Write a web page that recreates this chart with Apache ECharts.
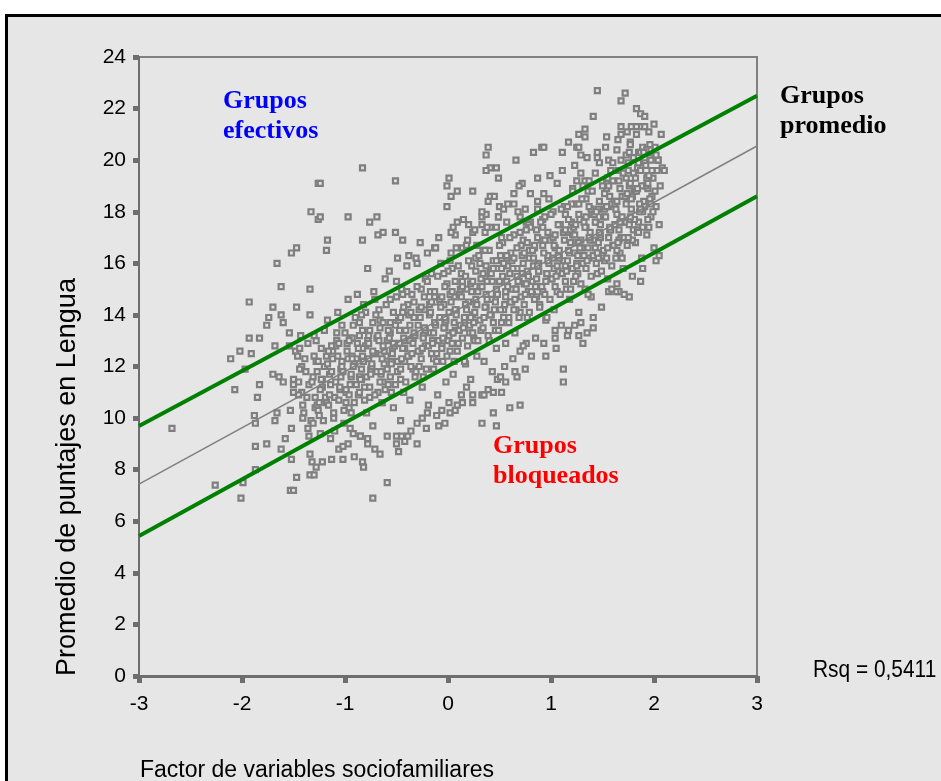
<!DOCTYPE html>
<html>
<head>
<meta charset="utf-8">
<script src="https://cdn.jsdelivr.net/npm/echarts@6/dist/echarts.min.js"></script>
<style>
  html, body { margin: 0; padding: 0; background: #fff; }
  #chart { width: 941px; height: 781px; }
</style>
</head>
<body>
<div id="chart"></div>
<script>
    // ticks
    const xTicks = [-3, -2, -1, 0, 1, 2, 3];
    const yTicks = [0, 2, 4, 6, 8, 10, 12, 14, 16, 18, 20, 22, 24];

    // fitted line (gray) and the two band lines (green), endpoints at x = -3 and x = 3
    const fitLine = [[-3, 7.44], [3, 20.55]];
    const upperLine = [[-3, 9.69], [3, 22.5]];
    const lowerLine = [[-3, 5.43], [3, 18.6]];

    // scatter points
    const leftPoints = [
        [-2.68,9.6],[-2.26,7.4],[-2.01,6.9],[-1.99,7.5],[-2.11,12.3],[-2.07,11.1],[-1.93,14.5],[-1.93,13.1],
        [-1.91,12.5],[-1.87,9.8],[-1.87,8.9],[-1.87,8.0],[-1.85,10.8],[-1.83,13.1],[-1.83,11.3],[-1.76,13.6],
        [-1.76,9.0],[-1.74,13.9],[-1.70,14.3],[-1.70,11.7],[-1.68,12.8],[-1.68,9.9],[-1.66,16.0],[-1.66,10.2],
        [-1.64,11.6],[-1.62,15.1],[-1.62,14.0],[-1.62,8.8],[-1.60,13.7],[-1.60,11.4],[-1.58,9.2],[-1.54,13.3],
        [-1.54,12.8],[-1.53,10.3],[-1.53,7.2],[-1.50,7.2],[-1.52,16.4],[-1.52,9.6],[-1.52,8.4],[-1.50,11.5],
        [-1.50,11.0],[-1.48,12.6],[-1.47,16.6],[-1.47,14.3],[-1.47,7.7],[-1.46,12.4],[-1.44,12.7],[-1.42,12.0],
        [-1.42,11.0],[-1.41,10.5],[-1.36,9.6],[-1.35,9.3],[-1.34,15.0],[-1.34,14.0],[-1.34,8.6],[-1.34,7.8],
        [-1.33,18.0],[-1.32,8.3],[-1.31,11.6],[-1.29,10.4],[-1.27,10.5],[-1.26,19.1],[-1.26,17.7],[-1.24,17.8],
        [-1.28,8.1],[-1.22,8.3],[-1.30,7.8],[-1.50,11.3],[-1.45,11.4],[-1.88,10.1],[-2.02,12.6],[-1.97,11.9],
        [-1.44,11.9],[-1.39,12.3],[-1.37,10.8],[-1.43,13.2],[-1.35,11.3],[-1.40,10.2]
    ];

    const upperPoints = [
        [-1.24,19.1],[-0.83,19.7],[-0.51,19.2],[-0.97,17.8],[-0.76,17.6],[-0.69,17.8],[-0.51,17.2],[-0.68,17.1],
        [-0.63,17.2],[-0.83,16.9],[-1.17,16.9],[-1.18,16.5],[-0.44,16.9],[-0.13,16.6],[-0.49,16.2],[-0.38,16.3],
        [0.01,19.3],[-0.01,19.0],[-0.01,18.2],[0.09,18.8],[0.03,18.6],[0.24,18.8],[0.39,20.5],[0.37,20.2],
        [0.41,19.7],[0.47,19.7],[0.37,19.6],[0.49,19.3],[0.41,18.6],[0.39,18.4],[0.50,18.2],[0.54,18.1],
        [0.64,18.7],[0.64,18.3],[0.66,20.0],[0.72,19.1],[0.75,18.1],[0.87,18.1],[0.87,19.3],[0.83,20.3],
        [0.91,20.5],[0.93,18.7],[0.93,20.5],[1.11,20.3],[1.17,20.7],[1.25,20.5],[1.27,20.5],[1.29,20.2],
        [1.27,21.0],[1.33,21.2],[1.33,20.9],[1.41,21.7],[1.45,22.7],[1.45,20.3],[1.45,20.1],[1.54,20.9],
        [1.56,20.0],[1.60,19.9],[1.64,20.4],[1.68,20.0],[1.68,21.0],[1.74,21.1],[1.68,21.3],[1.78,21.3],
        [1.83,21.3],[1.88,21.3],[1.91,21.3],[1.72,22.6],[1.68,22.3],[1.83,22.0],[1.87,21.8],[1.91,21.7],
        [2.00,21.4],[2.07,21.0],[1.77,20.7],[1.85,20.3],[1.89,20.5],[1.93,20.4],[1.97,20.4],[2.04,20.0],
        [2.08,19.7],[2.10,19.6],[0.05,17.4],[0.09,17.6],[0.20,17.5],[0.07,17.1],[0.33,17.8],[0.37,17.9],
        [0.33,17.5],[0.41,17.4],[0.47,17.4],[0.24,17.2],[0.36,17.2],[0.03,16.4],[0.14,16.6],[0.18,16.7],
        [-0.30,16.0],[0.49,17.8],[0.57,17.6],[0.70,17.8],[0.80,17.6],[0.92,17.7],[1.29,19.5],[1.25,19.2],
        [1.33,19.2],[1.37,19.2],[1.21,18.9],[1.21,18.8]
    ];

    const lowerPoints = [
        [-0.73,6.9],[-0.59,7.5],[-1.13,8.4],[-1.02,8.4],[-0.91,8.5],[-0.83,8.3],[-0.82,8.1],[-0.30,9.0],
        [-0.50,9.0],[-0.50,9.3],[-0.42,9.1],[-0.39,9.3],[-0.45,9.3],[-0.59,9.3],[-0.78,9.0],[-0.78,9.2],
        [-0.85,9.3],[-0.92,9.4],[-0.97,9.0],[-0.30,9.8],[-0.25,10.0],[-0.20,10.2],[-0.09,9.7],[-0.03,9.8],
        [-0.11,10.1],[0.02,10.2],[0.07,10.3],[0.14,10.6],[0.01,10.6],[0.24,10.6],[0.24,10.9],[0.33,10.9],
        [0.35,10.9],[0.44,10.2],[0.33,9.8],[0.47,9.7],[0.60,10.4],[0.70,10.5],[0.44,11.0],[0.52,11.0],
        [0.56,11.4],[0.48,11.5],[0.67,11.6],[0.65,11.8],[0.70,12.6],[0.76,12.9],[0.95,12.4],[1.12,11.9],
        [1.12,11.4],[1.04,13.4],[1.04,13.1],[1.16,13.2],[1.23,13.6],[1.27,13.2],[1.35,13.3],[1.31,12.9],
        [1.41,13.5],[1.56,14.9],[1.66,14.9],[1.64,15.2],[1.76,14.7],[1.87,15.3],[2.02,16.1],[1.94,17.4],
        [2.05,16.3],[-1.06,8.8],[-0.66,8.6]
    ];

    const corePoints = [
        [-1.45,10.9],[-1.38,11.8],[-1.30,12.4],[-1.25,10.1],[-1.22,11.2],[-1.41,10.0],[-1.28,13.0],[-1.33,9.9],
        [-1.20,12.0],[-1.36,12.9],[-1.18,10.6],[-1.24,9.4],
        [-1.15,11.7],[-1.12,12.6],[-1.10,10.8],[-1.08,13.3],[-1.05,11.1],[-1.03,12.2],[-1.01,9.8],[-0.98,12.9],
        [-0.96,10.4],[-0.94,11.6],[-0.92,13.6],[-1.14,9.2],[-1.07,14.1],[-0.99,11.0],[-0.93,12.4],[-1.11,10.0],
        [-0.97,14.6],[-1.17,13.8],[-1.02,8.9],[-0.95,9.6],
        [-0.89,12.3],[-0.87,10.9],[-0.86,13.7],[-0.84,11.5],[-0.82,14.4],[-0.80,12.8],[-0.79,10.2],[-0.77,13.2],
        [-0.75,11.9],[-0.73,9.7],[-0.72,14.9],[-0.70,12.5],[-0.68,11.0],[-0.66,13.8],[-0.64,10.6],[-0.62,12.1],
        [-0.61,15.4],[-0.85,9.3],[-0.78,15.8],[-0.71,8.8],[-0.67,14.2],[-0.88,14.8],[-0.74,12.0],[-0.63,11.4],
        [-0.81,11.2],
        [-0.59,13.0],[-0.58,11.3],[-0.56,14.6],[-0.55,12.2],[-0.53,10.4],[-0.52,13.7],[-0.50,15.3],[-0.49,11.8],
        [-0.47,12.9],[-0.46,9.9],[-0.44,14.1],[-0.43,11.0],[-0.41,13.4],[-0.40,15.9],[-0.38,12.4],[-0.37,10.7],
        [-0.35,14.8],[-0.34,13.1],[-0.32,11.6],[-0.31,16.2],[-0.57,15.7],[-0.48,8.7],[-0.42,12.2],[-0.36,9.5],
        [-0.54,12.6],[-0.39,14.4],
        [-0.29,13.6],[-0.28,12.0],[-0.26,15.0],[-0.25,11.2],[-0.23,14.2],[-0.22,12.8],[-0.20,16.4],[-0.19,10.5],
        [-0.17,13.3],[-0.16,15.6],[-0.14,11.9],[-0.13,14.7],[-0.11,12.5],[-0.10,10.9],[-0.08,13.9],[-0.07,16.0],
        [-0.05,12.2],[-0.04,14.4],[-0.02,11.4],[-0.01,15.2],[-0.27,16.8],[-0.21,9.6],[-0.15,13.0],[-0.09,17.0],
        [-0.03,13.5],[-0.18,14.0],[-0.12,16.6],[-0.06,10.3],
        [0.01,14.1],[0.02,12.6],[0.04,15.8],[0.05,11.7],[0.07,13.4],[0.08,16.6],[0.10,12.9],[0.11,14.8],
        [0.13,10.9],[0.14,15.3],[0.16,13.8],[0.17,12.1],[0.19,16.9],[0.20,14.5],[0.22,11.5],[0.23,15.9],
        [0.25,13.1],[0.26,17.3],[0.28,12.4],[0.29,14.9],[0.03,17.2],[0.09,10.5],[0.15,17.7],[0.21,13.3],
        [0.27,16.2],[0.06,14.7],[0.12,13.6],[0.18,11.2],[0.24,14.0],[0.00,13.0],
        [0.31,15.1],[0.32,13.4],[0.34,16.5],[0.35,12.2],[0.37,14.3],[0.38,17.4],[0.40,13.0],[0.41,15.7],
        [0.43,11.8],[0.44,16.1],[0.46,14.6],[0.47,12.7],[0.49,17.8],[0.50,15.3],[0.52,13.7],[0.53,16.8],
        [0.55,12.0],[0.56,14.9],[0.58,18.3],[0.59,13.9],[0.33,18.0],[0.39,11.1],[0.45,18.6],[0.51,11.6],
        [0.57,16.2],[0.36,15.5],[0.42,14.0],[0.48,15.8],[0.54,14.2],[0.60,15.6],
        [0.61,16.4],[0.62,14.5],[0.64,17.1],[0.65,13.3],[0.67,15.8],[0.68,18.0],[0.70,14.1],[0.71,16.7],
        [0.73,12.8],[0.74,15.2],[0.76,17.6],[0.77,13.9],[0.79,16.2],[0.80,18.7],[0.82,14.8],[0.83,15.9],
        [0.85,13.1],[0.86,17.3],[0.88,16.0],[0.89,14.4],[0.63,12.3],[0.69,19.0],[0.75,11.9],[0.81,12.4],
        [0.87,18.4],[0.66,15.0],[0.72,15.6],[0.78,14.9],[0.84,16.6],[0.90,15.1],
        [0.91,16.9],[0.92,14.9],[0.94,17.8],[0.95,13.8],[0.97,16.3],[0.98,18.5],[1.00,15.4],[1.01,17.0],
        [1.03,14.2],[1.04,16.6],[1.06,19.1],[1.07,15.7],[1.09,17.5],[1.10,13.6],[1.12,16.1],[1.13,18.2],
        [1.15,15.0],[1.16,17.2],[1.18,14.6],[1.19,16.8],[0.93,12.9],[0.99,19.4],[1.05,12.7],[1.11,19.6],
        [1.17,13.4],[0.96,15.6],[1.02,16.2],[1.08,16.5],[1.14,15.9],[1.20,17.6],
        [1.21,17.1],[1.22,15.3],[1.24,18.3],[1.25,16.0],[1.27,14.1],[1.28,17.7],[1.30,16.6],[1.31,19.0],
        [1.33,15.0],[1.34,17.4],[1.36,18.8],[1.37,16.2],[1.39,14.7],[1.40,17.9],[1.42,16.9],[1.43,19.5],
        [1.45,15.6],[1.46,18.1],[1.48,17.0],[1.49,14.3],[1.23,19.8],[1.29,13.7],[1.35,20.1],[1.41,13.9],
        [1.47,19.9],[1.26,16.8],[1.32,16.3],[1.38,17.2],[1.44,17.6],[1.50,16.4],
        [1.51,17.8],[1.52,16.1],[1.54,18.9],[1.55,15.4],[1.57,17.3],[1.58,19.6],[1.60,16.7],[1.61,18.4],
        [1.63,14.9],[1.64,17.9],[1.66,19.2],[1.67,16.4],[1.69,18.6],[1.70,15.8],[1.72,17.6],[1.73,20.2],
        [1.75,16.9],[1.76,19.0],[1.78,18.1],[1.79,15.5],[1.53,20.5],[1.59,15.0],[1.65,20.8],[1.71,14.8],
        [1.77,20.6],[1.56,18.2],[1.62,17.5],[1.68,17.0],[1.74,18.5],[1.80,17.3],
        [1.81,18.8],[1.82,16.8],[1.84,19.7],[1.85,17.6],[1.87,20.3],[1.88,16.2],[1.90,18.4],[1.91,19.9],
        [1.93,17.1],[1.94,18.9],[1.96,20.1],[1.97,17.8],[1.99,19.3],[2.00,16.6],[2.02,18.2],[2.03,19.6],
        [2.05,17.5],[1.83,21.0],[1.89,15.8],[1.95,21.1],[2.01,20.5],[1.86,18.3],[1.92,19.0],[1.98,18.6],
        [2.04,20.0],[1.80,19.5],[2.06,19.0]
    ];

    const coreExtra = [
        [-1.04,11.9],[-0.91,12.1],[-0.83,12.7],[-0.69,13.1],[-0.60,12.4],[-0.51,13.6],[-0.42,12.7],[-0.33,13.9],
        [-0.24,13.2],[-0.12,14.5],[-0.03,13.7],[0.08,14.2],[0.18,15.0],[0.27,14.4],[0.38,15.3],[0.47,14.8],
        [0.58,15.9],[0.69,15.3],[0.79,16.5],[0.88,15.7],[0.99,16.9],[1.08,16.3],[1.19,17.3],[1.29,16.9],
        [1.39,18.1],[1.48,17.5],[1.59,18.3],[1.69,17.8],[1.79,18.6],[1.89,18.0],[-0.95,13.1],[-0.86,11.6],
        [-0.77,12.3],[-0.65,11.7],[-0.56,13.3],[-0.46,11.5],[-0.37,13.0],[-0.27,12.6],[-0.17,14.9],[-0.06,12.8],
        [0.04,13.3],[0.13,15.6],[0.22,13.9],[0.31,16.0],[0.42,14.6],[0.51,16.3],[0.62,15.0],[0.73,16.9],
        [0.82,15.3],[0.92,17.4],[1.03,15.8],[1.14,17.9],[1.23,16.4],[1.34,18.5],[1.43,16.6],[1.54,19.1],
        [1.63,16.2],[1.73,19.3],[1.84,17.3],[1.94,19.4],[-1.09,12.8],[-0.99,10.6],[-0.76,10.8],[-0.55,11.0],
        [-0.34,11.9],[-0.14,12.3],[0.06,12.2],[0.26,13.0],[0.46,13.4],[0.66,14.2],[0.86,14.7],[1.06,14.9],
        [1.26,15.6],[1.46,16.2],[1.66,16.9],[-0.71,14.6],[-0.45,15.0],[-0.22,15.4],[0.02,16.1],[0.28,16.7],
        [0.52,17.0],[0.78,17.5],[1.02,18.0],[1.27,18.3],[1.52,18.7],[1.75,19.6]
    ];

    // the solid middle of the cloud, left half
    const denseLeft = [
        [-1.31,9.8],[-1.29,10.8],[-1.32,11.4],[-1.28,12.2],[-1.30,13.2],[-1.26,10.3],[-1.24,11.1],[-1.27,11.8],
        [-1.23,12.7],[-1.21,9.9],[-1.19,10.8],[-1.22,11.5],[-1.18,12.4],[-1.20,13.4],[-1.16,10.5],[-1.14,11.3],
        [-1.17,12.1],[-1.13,12.8],[-1.11,10.2],[-1.09,11.4],[-1.12,12.3],[-1.08,13.0],[-1.10,9.5],[-1.06,10.7],
        [-1.04,11.6],[-1.07,12.4],[-1.03,13.6],[-1.01,10.3],[-0.99,11.1],[-1.02,11.8],[-0.98,12.6],[-1.00,13.3],
        [-0.96,10.9],[-0.94,11.7],[-0.97,12.3],[-0.93,13.1],[-0.91,10.6],[-0.89,11.3],[-0.92,12.0],[-0.88,12.9],
        [-0.90,13.9],[-0.86,11.0],[-0.84,11.9],[-0.87,12.7],[-0.83,13.4],[-0.81,10.7],[-0.79,11.6],[-0.82,12.2],
        [-0.78,13.0],[-0.80,14.1],[-0.76,11.2],[-0.74,12.1],[-0.77,12.9],[-0.73,13.7],[-0.71,10.9],[-0.69,11.8],
        [-0.72,12.5],[-0.68,13.2],[-0.70,14.0],[-0.66,11.4],[-0.64,12.3],[-0.67,13.0],[-0.63,13.7],[-0.61,11.1],
        [-0.59,11.9],[-0.62,12.6],[-0.58,13.4],[-0.60,14.4],[-0.56,11.6],[-0.54,12.5],[-0.57,13.1],[-0.53,14.1],
        [-0.51,11.3],[-0.49,12.2],[-0.52,12.8],[-0.48,13.8],[-0.50,14.7],[-0.46,11.9],[-0.44,12.7],[-0.47,13.4],
        [-0.43,14.3],[-0.41,11.4],[-0.39,12.4],[-0.42,13.0],[-0.38,14.0],[-0.40,14.9],[-0.36,12.0],[-0.34,12.9],
        [-0.37,13.6],[-0.33,14.5],[-0.31,11.8],[-0.29,12.6],[-0.32,13.2],[-0.28,14.2],[-0.30,15.1],[-0.26,12.3],
        [-0.24,13.1],[-0.27,13.9],[-0.23,14.7],[-0.21,11.9],[-0.19,12.8],[-0.22,13.4],[-0.18,14.4],[-0.20,15.3],
        [-0.16,12.5],[-0.14,13.3],[-0.17,14.1],[-0.13,14.9],[-0.11,12.2],[-0.09,13.0],[-0.12,13.6],[-0.08,14.6],
        [-0.10,15.5],[-0.06,12.7],[-0.04,13.5],[-0.07,14.3],[-0.03,15.1],[-0.01,12.4],[0.01,13.2],[-0.02,13.8],
        [0.02,14.8],[0.00,15.7]
    ];

    // the solid middle of the cloud, right half
    const denseRight = [
        [0.04,12.9],[0.06,13.7],[0.03,14.5],[0.07,15.3],[0.09,12.6],[0.11,13.4],[0.08,14.0],[0.12,15.0],
        [0.10,15.9],[0.14,13.1],[0.16,13.9],[0.13,14.7],[0.17,15.5],[0.19,12.8],[0.21,13.6],[0.18,14.2],
        [0.22,15.2],[0.20,16.1],[0.24,13.3],[0.26,14.1],[0.23,14.9],[0.27,15.7],[0.29,13.0],[0.31,13.8],
        [0.28,14.4],[0.32,15.4],[0.30,16.3],[0.34,13.5],[0.36,14.3],[0.33,15.1],[0.37,15.9],[0.39,13.2],
        [0.41,14.0],[0.38,14.6],[0.42,15.6],[0.40,16.5],[0.44,13.7],[0.46,14.5],[0.43,15.3],[0.47,16.1],
        [0.49,13.4],[0.51,14.2],[0.48,14.8],[0.52,15.8],[0.50,16.7],[0.54,13.9],[0.56,14.7],[0.53,15.5],
        [0.57,16.3],[0.59,13.7],[0.61,14.5],[0.58,15.1],[0.62,16.1],[0.60,17.0],[0.64,14.2],[0.66,15.0],
        [0.63,15.8],[0.67,16.6],[0.69,13.9],[0.71,14.7],[0.68,15.3],[0.72,16.3],[0.70,17.2],[0.74,14.4],
        [0.76,15.2],[0.73,16.0],[0.77,16.8],[0.79,14.1],[0.81,14.9],[0.78,15.5],[0.82,16.5],[0.80,17.4],
        [0.84,14.6],[0.86,15.4],[0.83,16.2],[0.87,17.0],[0.89,14.3],[0.91,15.1],[0.88,15.7],[0.92,16.7],
        [0.90,17.6],[0.94,14.8],[0.96,15.6],[0.93,16.4],[0.97,17.2],[0.99,14.6],[1.01,15.4],[0.98,16.0],
        [1.02,17.0],[1.00,17.9],[1.04,15.1],[1.06,15.9],[1.03,16.7],[1.07,17.5],[1.09,14.8],[1.11,15.6],
        [1.08,16.2],[1.12,17.2],[1.10,18.1],[1.14,15.3],[1.16,16.1],[1.13,16.9],[1.17,17.7],[1.19,15.0],
        [1.21,15.8],[1.18,16.4],[1.22,17.4],[1.20,18.3],[1.24,15.5],[1.26,16.3],[1.23,17.1],[1.27,17.9],
        [1.29,15.2],[1.31,16.0],[1.28,16.6],[1.32,17.6],[1.30,18.5],[1.34,15.8],[1.36,16.6],[1.33,17.4],
        [1.37,18.2],[1.39,15.5],[1.41,16.3],[1.38,16.9],[1.42,17.9],[1.40,18.8],[1.44,16.0],[1.46,16.8],
        [1.43,17.6],[1.47,18.4],[1.49,15.7],[1.51,16.5],[1.48,17.1],[1.52,18.1],[1.50,19.0],[1.54,16.2],
        [1.56,17.0],[1.53,17.8],[1.57,18.6],[1.59,15.9],[1.61,16.7],[1.58,17.3],[1.62,18.3],[1.60,19.2],
        [1.64,16.5],[1.66,17.3],[1.63,18.1],[1.67,18.9],[1.69,16.2],[1.71,17.0],[1.68,17.6],[1.72,18.6],
        [1.70,19.5],[1.74,16.7],[1.76,17.5],[1.73,18.3],[1.77,19.1],[1.75,19.9],[1.79,16.9],[1.81,17.7],
        [1.78,18.5],[1.82,19.3],[1.80,20.1],[1.84,17.2],[1.86,18.0],[1.83,18.8],[1.87,19.6],[1.89,17.4],
        [1.91,18.2],[1.88,19.0],[1.92,19.8],[1.90,20.3],[1.94,17.7],[1.96,18.5],[1.93,19.3],[1.97,20.0],
        [1.99,18.0],[2.01,18.8],[1.98,19.6],[2.02,20.2],[1.95,19.4],[1.85,19.9],[1.65,19.6],[1.55,19.3]
    ];

    // more points packed along the fit line, where the cloud is solid
    const denseMid = [
        [-1.25,10.6],[-1.23,11.5],[-1.26,12.2],[-1.15,10.9],[-1.13,11.8],[-1.16,12.6],[-1.05,11.2],[-1.03,12.0],
        [-1.06,12.9],[-0.95,11.3],[-0.93,12.3],[-0.96,13.0],[-0.94,10.2],[-0.85,11.5],[-0.83,12.4],[-0.86,13.2],
        [-0.84,14.0],[-0.75,11.7],[-0.73,12.6],[-0.76,13.4],[-0.65,11.8],[-0.63,12.8],[-0.66,13.5],[-0.64,10.6],
        [-0.55,12.1],[-0.53,12.9],[-0.56,13.7],[-0.45,12.3],[-0.43,13.1],[-0.46,13.9],[-0.44,14.8],[-0.35,12.5],
        [-0.33,13.3],[-0.36,14.1],[-0.25,12.7],[-0.23,13.5],[-0.26,14.3],[-0.24,11.6],[-0.15,12.9],[-0.13,13.7],
        [-0.16,14.5],[-0.05,13.1],[-0.03,13.9],[-0.06,14.7],[-0.04,15.6],[0.05,13.3],[0.07,14.2],[0.04,14.9],
        [0.15,13.5],[0.17,14.4],[0.14,15.1],[0.16,12.2],[0.25,13.7],[0.27,14.6],[0.24,15.3],[0.35,13.9],
        [0.37,14.8],[0.34,15.6],[0.36,16.5],[0.45,14.2],[0.47,15.0],[0.44,15.8],[0.55,14.4],[0.57,15.3],
        [0.54,16.0],[0.56,12.9],[0.65,14.6],[0.67,15.5],[0.64,16.2],[0.75,14.8],[0.77,15.7],[0.74,16.4],
        [0.76,17.3],[0.85,15.1],[0.87,15.9],[0.84,16.7],[0.95,15.3],[0.97,16.1],[0.94,16.9],[0.96,13.9],
        [1.05,15.5],[1.07,16.3],[1.04,17.1],[1.15,15.7],[1.17,16.5],[1.14,17.3],[1.16,18.2],[1.25,15.9],
        [1.27,16.8],[1.24,17.5],[1.35,16.1],[1.37,17.0],[1.34,17.8],[1.36,14.8],[1.45,16.4],[1.47,17.2],
        [1.44,18.0],[1.55,16.6],[1.57,17.4],[1.54,18.2],[1.56,19.0],[1.65,16.8],[1.67,17.6],[1.64,18.4],
        [1.75,17.0],[1.77,17.8],[1.74,18.7],[1.76,20.3],[1.85,17.2],[1.87,18.1],[1.84,18.9],[1.95,17.4],
        [1.97,18.3],[1.94,19.1],[1.96,20.6]
    ];

    const allPoints = leftPoints.concat(upperPoints, lowerPoints, corePoints, coreExtra, denseLeft, denseRight, denseMid);

    const chart = echarts.init(document.getElementById('chart'));

    const sansFamily = '"Liberation Sans", Arial, sans-serif';
    const groupFont = 'bold 26px "Liberation Serif", "Times New Roman", serif';

    const option = {
        animation: false,
        backgroundColor: '#ffffff',
        graphic: [
            {
                type: 'rect',
                z: -10,
                shape: { x: 6.5, y: 15.5, width: 1000, height: 1000 },
                style: { fill: '#e6e6e6', stroke: '#000', lineWidth: 3 }
            },
            {
                type: 'text',
                x: 223, y: 86,
                style: { text: 'Grupos\nefectivos', font: groupFont, fill: '#0000ff', lineHeight: 30 }
            },
            {
                type: 'text',
                x: 780, y: 81,
                style: { text: 'Grupos\npromedio', font: groupFont, fill: '#000000', lineHeight: 30 }
            },
            {
                type: 'text',
                x: 493, y: 431,
                style: { text: 'Grupos\nbloqueados', font: groupFont, fill: '#ff0000', lineHeight: 30 }
            },
            {
                type: 'text',
                x: 813, y: 670,
                scaleX: 0.87,
                style: { text: 'Rsq = 0,5411', font: '24px ' + sansFamily, fill: '#000', verticalAlign: 'middle' }
            },
            {
                type: 'text',
                x: 68, y: 477,
                rotation: Math.PI / 2,
                style: {
                    text: 'Promedio de puntajes en Lengua',
                    font: '27px ' + sansFamily,
                    fill: '#000',
                    align: 'center',
                    verticalAlign: 'middle'
                }
            },
            {
                type: 'text',
                x: 140, y: 759,
                style: {
                    text: 'Factor de variables sociofamiliares',
                    font: '23px ' + sansFamily,
                    fill: '#000'
                }
            }
        ],
        grid: {
            left: 139,
            top: 57,
            right: 184,
            bottom: 105,
            show: true,
            backgroundColor: 'transparent',
            borderColor: '#808080',
            borderWidth: 2
        },
        xAxis: {
            type: 'value',
            min: xTicks[0],
            max: xTicks[xTicks.length - 1],
            interval: 1,
            axisLine: { show: true, onZero: false, lineStyle: { color: '#6e6e6e', width: 3 } },
            axisTick: { show: true, length: 7, lineStyle: { color: '#6e6e6e', width: 5 } },
            splitLine: { show: false },
            axisLabel: { color: '#000', fontSize: 21, fontFamily: sansFamily, margin: 18 }
        },
        yAxis: {
            type: 'value',
            min: yTicks[0],
            max: yTicks[yTicks.length - 1],
            interval: 2,
            axisLine: { show: true, onZero: false, lineStyle: { color: '#6e6e6e', width: 2 } },
            axisTick: { show: true, length: 6, lineStyle: { color: '#6e6e6e', width: 5 } },
            splitLine: { show: false },
            axisLabel: { color: '#000', fontSize: 21, fontFamily: sansFamily, margin: 13 }
        },
        series: [
            {
                type: 'scatter',
                data: allPoints,
                symbol: 'rect',
                symbolSize: 5,
                itemStyle: { color: '#e4e4e4', borderColor: '#7f7f7f', borderWidth: 2.2, opacity: 1 },
                z: 2
            },
            {
                type: 'line',
                data: fitLine,
                showSymbol: false,
                lineStyle: { color: '#808080', width: 1.5 },
                z: 3
            },
            {
                type: 'line',
                data: upperLine,
                showSymbol: false,
                lineStyle: { color: '#008000', width: 4 },
                z: 4
            },
            {
                type: 'line',
                data: lowerLine,
                showSymbol: false,
                lineStyle: { color: '#008000', width: 4 },
                z: 4
            }
        ]
    };

    chart.setOption(option);
</script>
</body>
</html>
